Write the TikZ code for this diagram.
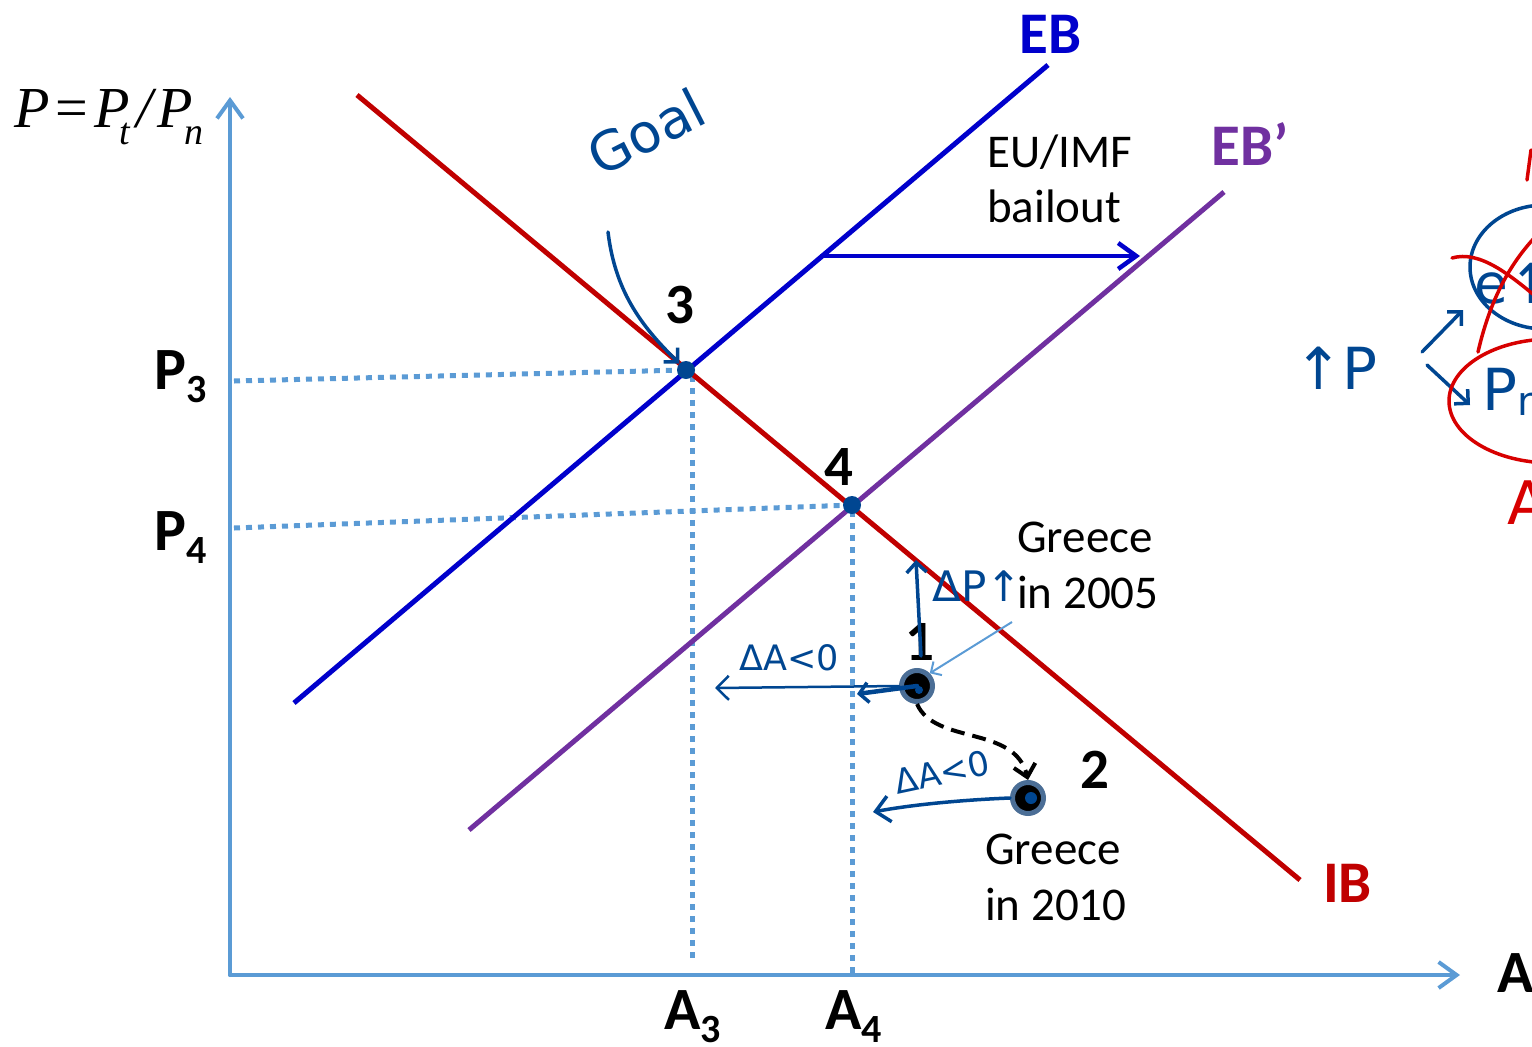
\documentclass[tikz,border=0pt]{standalone}
\usepackage{fontspec}
\setmainfont{Carlito}
\newfontfamily\tnr{Liberation Serif}
\newfontfamily\hand{DejaVu Sans}
\usetikzlibrary{arrows.meta}
\definecolor{axblue}{RGB}{91,155,213}
\definecolor{ebblue}{RGB}{0,0,204}
\definecolor{ebpurple}{RGB}{112,48,160}
\definecolor{ibred}{RGB}{192,0,0}
\definecolor{handblue}{RGB}{0,70,145}
\definecolor{handred}{RGB}{215,0,0}
\definecolor{ptborder}{RGB}{75,110,150}
\tikzset{
  axis/.style={draw=axblue, line width=4pt, line cap=round, -{Straight Barb[length=18pt,width=26pt,line width=4pt]}},
  curve/.style={line width=5pt},
  guide/.style={draw=axblue, line width=5pt, dash pattern=on 6pt off 6pt},
  bigl/.style={font=\fontsize{60}{60}\selectfont\bfseries, inner sep=0pt, anchor=base west},
  numl/.style={font=\fontsize{57}{57}\selectfont\bfseries, inner sep=0pt, anchor=base west},
  txt/.style={font=\fontsize{47}{56}\selectfont, inner sep=0pt, anchor=base west},
  hw/.style={text=handblue, inner sep=0pt, font=\hand},
  hwline/.style={draw=handblue, line width=3.5pt, line cap=round, line join=round},
  hwtip/.style={-{Straight Barb[length=10pt,width=20pt,line width=3.5pt]}},
  ptc/.style={circle, fill=black, draw=ptborder, line width=5pt, minimum size=31pt, inner sep=0pt},
  eqdot/.style={circle, fill=handblue, minimum size=18pt, inner sep=0pt},
}
\newcommand{\subsc}[1]{\raisebox{-0.22em}{\fontsize{40}{40}\selectfont #1}}
\begin{document}
\begin{tikzpicture}[x=1pt,y=-1pt]
\useasboundingbox (0,0) rectangle (1532,1047);

% axes
\coordinate (O) at (230,975);
\coordinate (ytop) at (230,97);
\coordinate (xend) at (1460,975);
\draw[axis] (O) -- (ytop);
\draw[axis] (O) -- (xend);

% curve end points
\coordinate (eb1) at (294,703);
\coordinate (eb2) at (1048,65);
\coordinate (ebp1) at (469,830);
\coordinate (ebp2) at (1224,192);
\coordinate (ib1) at (357,95);
\coordinate (ib2) at (1300,880);
\coordinate (p3) at (686,370);
\coordinate (p4) at (852,505);

% guide lines
\coordinate (yP3) at (234,381);
\coordinate (yP4) at (234,528);
\coordinate (xA3) at (692,958);
\coordinate (xA4) at (852,975);
\coordinate (p3d) at (692,376);
\coordinate (p4d) at (852,511);
\draw[guide] (yP3) -- (p3);
\draw[guide] (yP4) -- (p4);
\draw[guide] (p3d) -- (xA3);
\draw[guide] (p4d) -- (xA4);

% curves
\draw[curve, ebblue] (eb1) -- (eb2);
\draw[curve, ebpurple] (ebp1) -- (ebp2);
\draw[curve, ibred] (ib1) -- (ib2);

% bailout arrow
\coordinate (bs) at (822,256);
\coordinate (be) at (1140,256);
\draw[ebblue, line width=4.5pt, line cap=round, -{Straight Barb[length=18pt,width=26pt,line width=4.5pt]}] (bs) -- (be);

% curve labels
\node[font=\fontsize{59}{59}\selectfont\bfseries, text=ebblue, inner sep=0pt, anchor=base west] (lEB) at (1019,53) {EB};
\node[font=\fontsize{59}{59}\selectfont\bfseries, text=ebpurple, inner sep=0pt, anchor=base west] (lEBp) at (1211,165) {EB’};
\node[font=\fontsize{59}{59}\selectfont\bfseries, text=ibred, inner sep=0pt, anchor=base west] (lIB) at (1323,902) {IB};

% axis labels
\node[inner sep=0pt, anchor=base west, font=\fontsize{58}{58}\selectfont\tnr\itshape] (eq) at (14,127)
  {P\kern6pt{\upshape =}\kern6pt P\kern-10pt\raisebox{-0.3em}{\fontsize{38}{38}\selectfont t}\kern6pt/\kern5pt P\kern-8pt\raisebox{-0.3em}{\fontsize{38}{38}\selectfont n}};
\node[bigl] (lP3) at (154,389) {P\subsc{3}};
\node[bigl] (lP4) at (154,550) {P\subsc{4}};
\node[bigl] (lA3) at (664,1029) {A\subsc{3}};
\node[bigl] (lA4) at (825,1029) {A\subsc{4}};
\node[bigl] (lA) at (1497,992) {A};

% point labels
\node[numl] (l3) at (665,323) {3};
\node[numl] (l4) at (824,485) {4};
\node[numl] (l1) at (905,660) {1};
\node[numl] (l2) at (1080,788) {2};

% texts
\node[txt] (t1a) at (987,167) {EU/IMF};
\node[txt] (t1b) at (987,222) {bailout};
\node[txt] (t2a) at (1017,552) {Greece};
\node[txt] (t2b) at (1017,608) {in 2005};
\node[txt] (t3a) at (985,864) {Greece};
\node[txt] (t3b) at (985,920) {in 2010};

% points
\node[eqdot] (d3) at (p3) {};
\node[eqdot] (d4) at (p4) {};
\node[ptc] (n1) at (917,686) {};
\node[ptc] (n2) at (1028,798) {};
\fill[handblue] (919,690) circle (4pt);
\fill[handblue] (1031,798) circle (6pt);

% thin pointer to point 1
\coordinate (ptrA) at (1012,622);
\draw[axblue, line width=2pt, -{Straight Barb[length=8pt,width=16pt,line width=2pt]}] (ptrA) -- (n1.north east);

% dashed arrow 1 -> 2
\draw[black, line width=4pt, dash pattern=on 14pt off 8pt, -{Straight Barb[length=12pt,width=22pt,line width=4pt]}]
  (n1.south) .. controls (935,745) and (1015,725) .. (n2.north);

% handwritten annotations
\node[hw, font=\hand\fontsize{54}{54}\selectfont, rotate=27] (goal) at (646,132) {Goal};
\coordinate (gs) at (608,232);
\draw[hwline, hwtip] (gs) .. controls (615,290) and (640,325) .. (d3.north west);

\coordinate (dpTop) at (916,560);
\coordinate (dpBot) at (921,656);
\draw[hwline, hwtip] (dpBot) -- (dpTop);
\node[hw, font=\hand\fontsize{42}{42}\selectfont] (dP) at (977,586) {ΔP↑};

\node[hw, font=\hand\fontsize{35}{35}\selectfont] (dA1) at (789,658) {ΔA<0};
\coordinate (a1end) at (715,688);
\coordinate (a1mid) at (857,694);
\draw[hwline, line width=2.5pt, -{Straight Barb[length=12pt,width=24pt,line width=2.5pt]}] (n1.west) -- (a1end);
\draw[hwline, line width=4.5pt, -{Straight Barb[length=9pt,width=20pt,line width=3.5pt]}] (n1.center) -- (a1mid);

\node[hw, font=\hand\fontsize{34}{34}\selectfont, rotate=12] (dA2) at (942,772) {ΔA<0};
\coordinate (a2end) at (873,812);
\draw[hwline, -{Straight Barb[length=14pt,width=26pt,line width=3.5pt]}] (n2.west) .. controls (960,800) and (910,805) .. (a2end);

% right side notes
\node[hw, font=\hand\fontsize{58}{58}\selectfont] (upP) at (1336,368) {↑P};
\coordinate (rA1s) at (1422,352);
\coordinate (rA1e) at (1463,310);
\coordinate (rA2s) at (1427,365);
\coordinate (rA2e) at (1470,405);
\draw[hwline, hwtip] (rA1s) -- (rA1e);
\draw[hwline, hwtip] (rA2s) -- (rA2e);
\node[hw, font=\hand\fontsize{55}{55}\selectfont, anchor=base west] (eup) at (1474,303) {e↑};
\draw[handblue, line width=3.5pt] (1545,267) ellipse [x radius=75, y radius=62];
\draw[handred, line width=3.5pt, line cap=round] (1452,258) .. controls (1480,250) and (1510,275) .. (1540,300);
\draw[handred, line width=3.5pt, line cap=round] (1478,352) .. controls (1490,300) and (1510,262) .. (1540,232);
\node[hw, font=\hand\fontsize{58}{58}\selectfont, anchor=base west] (pn) at (1482,410) {P\raisebox{-0.1em}{\fontsize{40}{40}\selectfont n}};
\draw[handred, line width=3.5pt] (1552,401) ellipse [x radius=103, y radius=62];
\node[text=handred, inner sep=0pt, font=\hand\fontsize{60}{60}\selectfont, anchor=base west] (redA) at (1507,524) {A};
\coordinate (rm1) at (1531,150);
\coordinate (rm2) at (1527,180);
\draw[handred, line width=3.5pt, line cap=round] (rm1) -- (rm2);
\end{tikzpicture}
\end{document}
